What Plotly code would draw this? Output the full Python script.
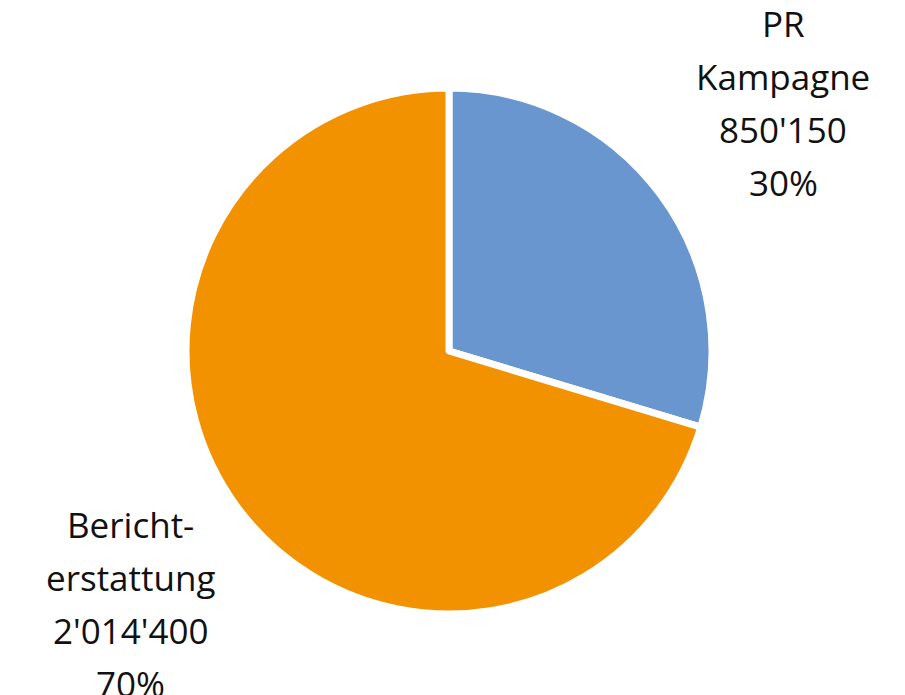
import plotly.graph_objects as go

labels = ["PR Kampagne", "Bericht-erstattung"]
label_lines = [["PR", "Kampagne"], ["Bericht-", "erstattung"]]
values = [850150, 2014400]
colors = ["#6a96cf", "#f39200"]

W, H = 905, 695
OFF = 8  # page body margin in the browser
cx, cy, r = 449 - OFF, 351 - OFF, 263

fig = go.Figure()
fig.add_trace(go.Pie(
    labels=labels, values=values, sort=False, direction="clockwise", rotation=0,
    marker=dict(colors=colors, line=dict(color="white", width=7)),
    textinfo="none", showlegend=False, hoverinfo="label+value+percent",
    domain=dict(x=[(cx - r) / W, (cx + r) / W], y=[1 - (cy + r) / H, 1 - (cy - r) / H]),
))

total = sum(values)
fs = 35
positions = [(783 - OFF, 36 - OFF), (130 - OFF, 537 - OFF)]  # (center x, first baseline y) in px
spacing = 53
anns = []
for i in range(len(values)):
    val = f"{values[i]:,}".replace(",", "'")
    pct = f"{round(values[i] / total * 100)}%"
    lines = label_lines[i] + [val, pct]
    x0, b0 = positions[i]
    for k, t in enumerate(lines):
        base = b0 + k * spacing
        yc = base - 0.36 * fs
        anns.append(dict(text=t, x=x0 / W, y=1 - yc / H, xref="paper", yref="paper",
                         xanchor="center", yanchor="middle", showarrow=False,
                         font=dict(size=fs, color="#111111", family="Open Sans")))

fig.update_layout(width=W, height=H, margin=dict(l=0, r=0, t=0, b=0),
                  paper_bgcolor="white", plot_bgcolor="white", annotations=anns)
fig.write_html("out.html")
